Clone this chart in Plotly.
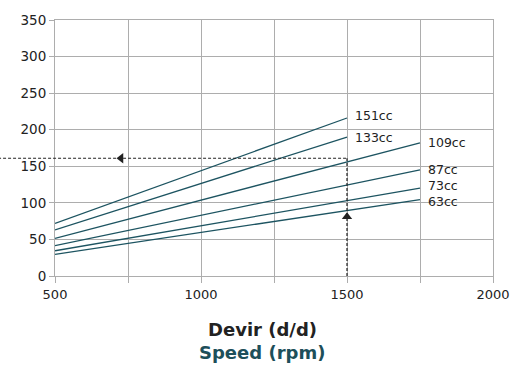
import plotly.graph_objects as go

speed_start = [500, 500, 500, 500, 500, 500]
speed_end = [1500, 1500, 1750, 1750, 1750, 1750]
labels = ["151cc", "133cc", "109cc", "87cc", "73cc", "63cc"]
val_start = [72, 63, 51.5, 41.5, 34.5, 29.5]
val_end = [216, 190, 182, 145, 120, 104.5]

x_tickvals = [500, 750, 1000, 1250, 1500, 1750, 2000]
x_ticktext = ["500", "", "1000", "", "1500", "", "2000"]
y_tickvals = [0, 50, 100, 150, 200, 250, 300, 350]

example_speed = 1500
example_value = 161
arrow_left_speed = 726
arrow_up_value = 81

label_yshift = [3, 0, 0, 0, 3, -2]

line_color = "#1d5461"
grid = "#adadad"
font_family = "DejaVu Sans"

fig = go.Figure()
for xs, xe, ys, ye, lab, dy in zip(speed_start, speed_end, val_start, val_end, labels, label_yshift):
    fig.add_trace(go.Scatter(x=[xs, xe], y=[ys, ye], mode="lines",
                             line=dict(color=line_color, width=1.3),
                             showlegend=False, hoverinfo="skip", name=lab))
    fig.add_annotation(x=xe, y=ye, text=lab, showarrow=False, xanchor="left",
                       yanchor="middle", xshift=6, yshift=dy,
                       font=dict(family=font_family, size=12.5, color="#222"))

# dashed reading guides
fig.add_shape(type="line", xref="paper", yref="y", x0=-0.13,
              x1=(example_speed - 500) / 1500, y0=example_value, y1=example_value,
              line=dict(color="#222", width=1.2, dash="3px,2px"))
fig.add_shape(type="line", xref="x", yref="y", x0=example_speed, x1=example_speed,
              y0=0, y1=example_value, line=dict(color="#222", width=1.2, dash="3px,2px"))
fig.add_trace(go.Scatter(x=[arrow_left_speed], y=[example_value], mode="markers",
                         marker=dict(symbol="triangle-left", size=9, color="#222"),
                         showlegend=False, hoverinfo="skip"))
fig.add_trace(go.Scatter(x=[example_speed], y=[arrow_up_value], mode="markers",
                         marker=dict(symbol="triangle-up", size=9, color="#222"),
                         showlegend=False, hoverinfo="skip"))

fig.update_xaxes(range=[500, 2000], tickvals=x_tickvals, ticktext=x_ticktext,
                 showgrid=True, gridcolor=grid, gridwidth=1,
                 showline=True, linecolor=grid, mirror=True,
                 ticks="outside", ticklen=6, tickcolor=grid,
                 tickfont=dict(family=font_family, size=13, color="#222"),
                 zeroline=False)
fig.update_yaxes(range=[0, 350], tickvals=y_tickvals,
                 showgrid=True, gridcolor=grid, gridwidth=1,
                 showline=True, linecolor=grid, mirror=True,
                 ticks="outside", ticklen=5, tickcolor=grid,
                 tickfont=dict(family=font_family, size=13.5, color="#222"),
                 zeroline=False)

fig.add_annotation(xref="paper", yref="paper", x=0.473, y=-0.21, showarrow=False,
                   text="<b>Devir (d/d)</b>", yanchor="middle",
                   font=dict(family=font_family, size=18, color="#222"))
fig.add_annotation(xref="paper", yref="paper", x=0.473, y=-0.30, showarrow=False,
                   text="<b>Speed (rpm)</b>", yanchor="middle",
                   font=dict(family=font_family, size=18, color="#1d4f5a"))

fig.update_layout(width=528, height=369, margin=dict(l=55, r=35, t=13, b=93),
                  plot_bgcolor="white", paper_bgcolor="white", showlegend=False)

fig.write_html("out.html", config={"displayModeBar": False},
               post_script="document.body.style.margin='0';")
